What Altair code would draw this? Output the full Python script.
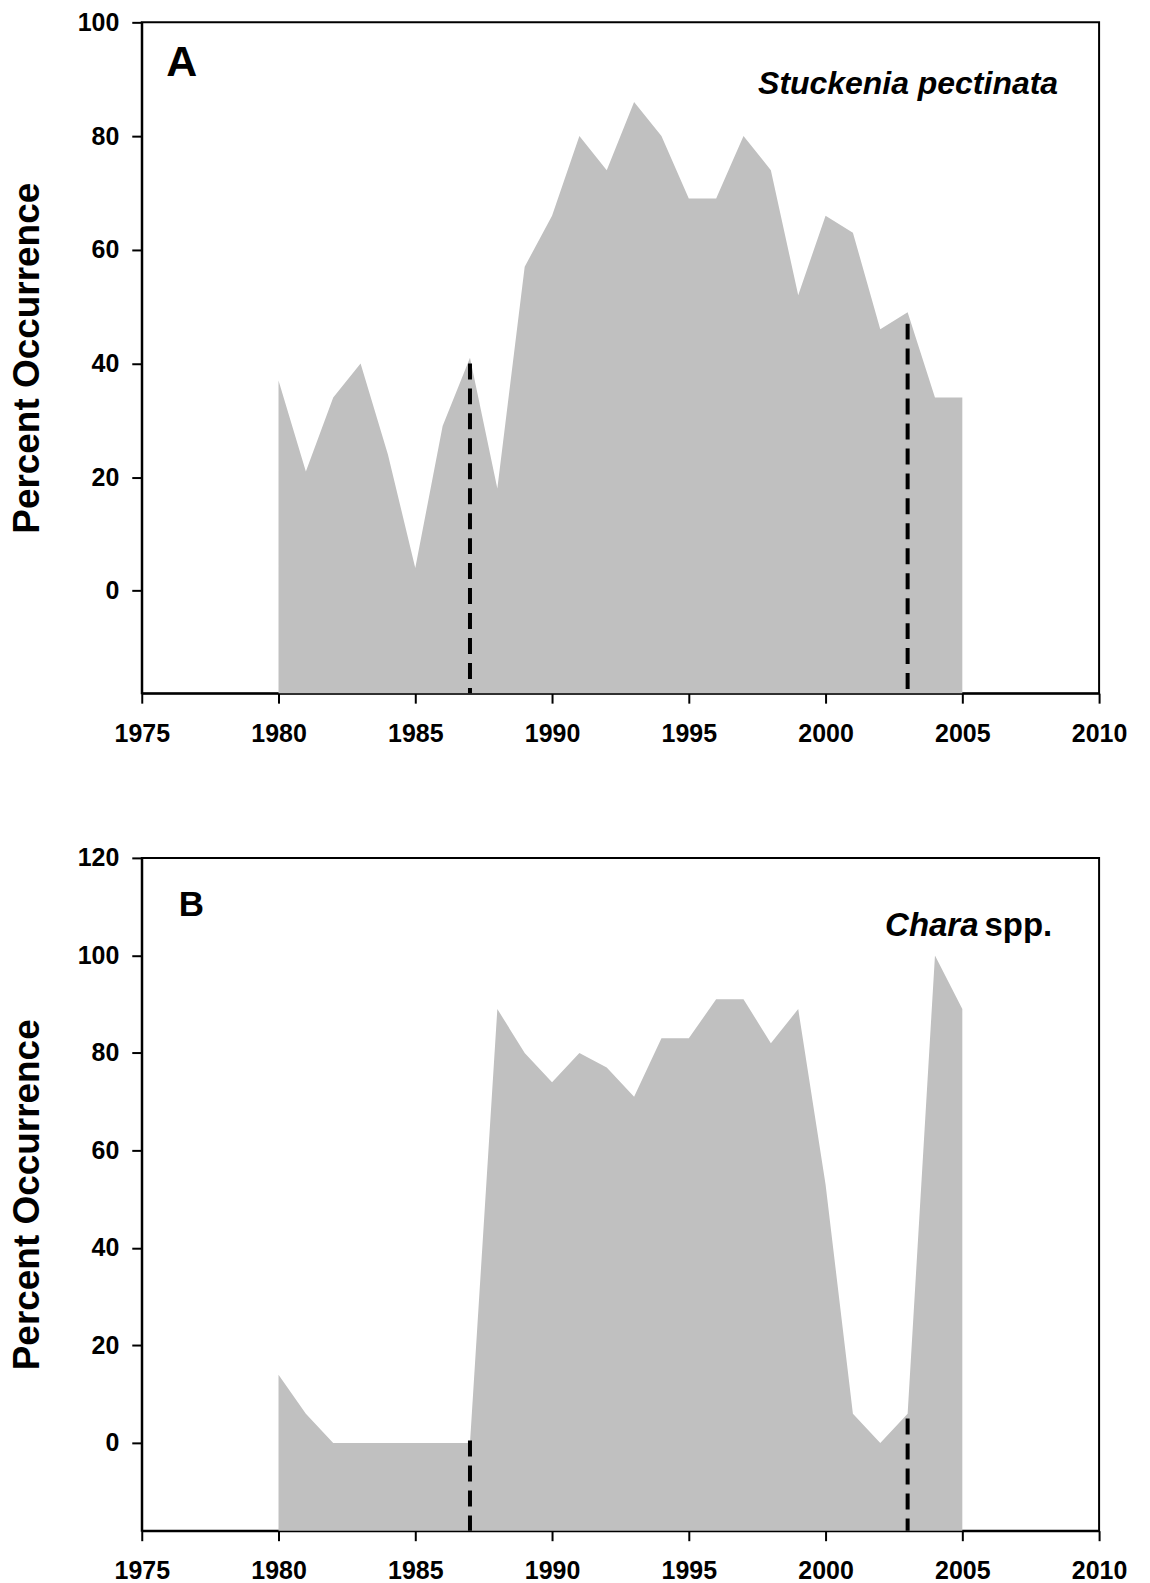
import altair as alt
import pandas as pd

# Survey years and percent occurrence of each macrophyte
years = list(range(1980, 2006))
stuckenia = [37, 21, 34, 40, 24, 4, 29, 41, 18, 57, 66, 80, 74, 86, 80,
             69, 69, 80, 74, 52, 66, 63, 46, 49, 34, 34]
chara = [14, 6, 0, 0, 0, 0, 0, 0, 89, 80, 74, 80, 77, 71, 83,
         83, 91, 91, 82, 89, 53, 6, 0, 6, 100, 89]

# Axis ticks and ranges
x_ticks = [1975, 1980, 1985, 1990, 1995, 2000, 2005, 2010]
x_domain = [1975, 2010]
a_y_ticks = [0, 20, 40, 60, 80, 100]
b_y_ticks = [0, 20, 40, 60, 80, 100, 120]
a_y_domain = [-18, 100]
b_y_domain = [-18, 120]

# Dashed markers for the change points
break_years = [1987, 2003]
a_break_tops = [40, 47]
b_break_tops = [0.5, 5]

FONT = "Liberation Sans"
FILL = "#c0c0c0"
WIDTH = 959


def encodings(y_domain, y_ticks):
    x_enc = alt.X(
        "year:Q",
        scale=alt.Scale(domain=x_domain, nice=False, zero=False),
        axis=alt.Axis(values=x_ticks, format="d", title=None, labelFlush=False),
    )
    y_enc = alt.Y(
        "pct:Q",
        scale=alt.Scale(domain=y_domain, nice=False, zero=False),
        axis=alt.Axis(values=y_ticks, title="Percent Occurrence"),
    )
    return x_enc, y_enc


def panel(values, y_domain, y_ticks, break_tops, height, texts):
    x_enc, y_enc = encodings(y_domain, y_ticks)
    df = pd.DataFrame({"year": years, "pct": values})
    area = alt.Chart(df).mark_area(color=FILL, opacity=1).encode(
        x=x_enc, y=y_enc, y2=alt.datum(y_domain[0])
    )
    rules_df = pd.DataFrame({"year": break_years, "pct": break_tops})
    rules = alt.Chart(rules_df).mark_rule(
        color="black", strokeWidth=4, strokeDash=[16, 9]
    ).encode(x=x_enc, y=y_enc, y2=alt.datum(y_domain[0]))
    layers = [area, rules]
    for t in texts:
        tdf = pd.DataFrame({"year": [t["x"]], "pct": [t["y"]], "label": [t["text"]]})
        layers.append(
            alt.Chart(tdf).mark_text(
                align=t["align"], baseline="alphabetic", font=FONT,
                fontSize=t["size"], fontWeight="bold",
                fontStyle=t.get("style", "normal"), dx=t.get("dx", 0),
                color="black",
            ).encode(x=x_enc, y=y_enc, text="label:N")
        )
    return alt.layer(*layers).properties(width=WIDTH, height=height)


panel_a = panel(
    stuckenia, a_y_domain, a_y_ticks, a_break_tops, 672,
    [
        {"x": 1975.9, "y": 90.6, "text": "A", "align": "left", "size": 43},
        {"x": 2008.5, "y": 87.4, "text": "Stuckenia pectinata",
         "align": "right", "size": 32, "style": "italic"},
    ],
)

panel_b = panel(
    chara, b_y_domain, b_y_ticks, b_break_tops, 674,
    [
        {"x": 1976.35, "y": 108.1, "text": "B", "align": "left", "size": 35},
        {"x": 2005.7, "y": 104.0, "text": "Chara", "align": "right",
         "size": 33, "style": "italic", "dx": -3},
        {"x": 2005.7, "y": 104.0, "text": "spp.", "align": "left",
         "size": 33, "dx": 3},
    ],
)

chart = (
    alt.vconcat(panel_a, panel_b, spacing=165, bounds="flush")
    .properties(padding={"left": 7, "top": 8, "right": 22, "bottom": 0})
    .configure_axis(
        domainColor="black", domainWidth=2, tickColor="black", tickWidth=2,
        tickSize=10, grid=False,
        labelFont=FONT, labelFontSize=25, labelFontWeight="bold",
        labelColor="black",
        titleFont=FONT, titleFontSize=37, titleFontWeight="bold",
        titleColor="black",
    )
    .configure_axisX(labelPadding=18)
    .configure_axisY(labelPadding=13, titlePadding=31)
    .configure_view(stroke="black", strokeWidth=2)
)

chart.save("out.html", embed_options={"renderer": "svg", "actions": False})
